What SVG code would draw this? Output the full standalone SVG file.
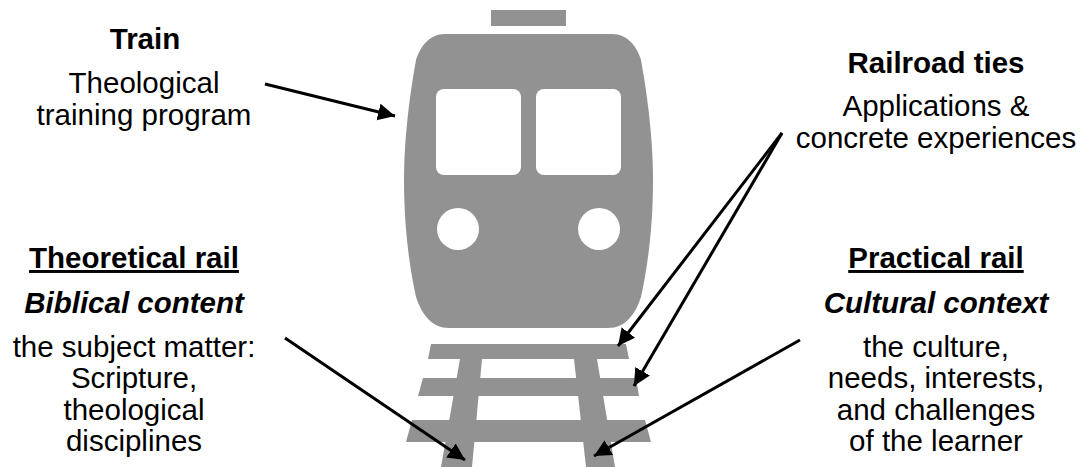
<svg xmlns="http://www.w3.org/2000/svg" width="1082" height="467" viewBox="0 0 1082 467">
<style>
text{font-family:"Liberation Sans",Arial,sans-serif;font-size:29.5px;fill:#000;text-anchor:middle}
.b{font-weight:700}
.u{font-weight:700;text-decoration:underline}
.i{font-weight:700;font-style:italic}
.g{fill:#929292}
.w{fill:#fff}
.c{stroke:#000;stroke-width:3;fill:none;marker-end:url(#a)}
</style>
<defs><marker id="a" markerUnits="userSpaceOnUse" markerWidth="20" markerHeight="20" refX="17" refY="9" orient="auto"><path d="M0 0.5L17 9L0 17.5Z" fill="#000"/></marker></defs>
<g id="train">
<rect class="g" x="491" y="10" width="75" height="16"/>
<path class="g" d="M445 34H612C628 34 637 47 641 60C650 110 653 150 653 181C653 225 648 265 641 297C635 315 625 328 608 328H449C432 328 422 315 416 297C409 265 404 225 404 181C404 150 407 110 416 60C420 47 429 34 445 34Z"/>
<rect class="w" x="436" y="89" width="85" height="86" rx="8"/>
<rect class="w" x="536" y="89" width="85" height="86" rx="8"/>
<circle class="w" cx="458" cy="229" r="21"/>
<circle class="w" cx="599" cy="229" r="21"/>
</g>
<g id="track">
<path class="g" d="M431 344H626L629 359H428Z"/>
<path class="g" d="M423 378H636L639 396H418Z"/>
<path class="g" d="M412 420H645L651 442H406Z"/>
<path class="g" d="M460 359H482L472 467H441Z"/>
<path class="g" d="M574 359H597L615 467H586Z"/>
</g>
<g id="connectors">
<path class="c" d="M265 84L395 116"/>
<path class="c" d="M782 133L618 346"/>
<path class="c" d="M782 133L634 386"/>
<path class="c" d="M285 338L465 460"/>
<path class="c" d="M800 340L594 456"/>
</g>
<g id="label-train">
<text class="b" x="145" y="49">Train</text>
<text x="144" y="93">Theological</text>
<text x="144" y="125">training program</text>
</g>
<g id="label-ties">
<text class="b" x="936" y="73">Railroad ties</text>
<text x="936" y="116">Applications &amp;</text>
<text x="936" y="148">concrete experiences</text>
</g>
<g id="label-theoretical">
<text class="u" x="134" y="268">Theoretical rail</text>
<text class="i" x="134" y="313">Biblical content</text>
<text x="134" y="357">the subject matter:</text>
<text x="134" y="388">Scripture,</text>
<text x="134" y="420">theological</text>
<text x="134" y="451">disciplines</text>
</g>
<g id="label-practical">
<text class="u" x="936" y="268">Practical rail</text>
<text class="i" x="936" y="313">Cultural context</text>
<text x="936" y="357">the culture,</text>
<text x="936" y="388">needs, interests,</text>
<text x="936" y="420">and challenges</text>
<text x="936" y="451">of the learner</text>
</g>
</svg>
